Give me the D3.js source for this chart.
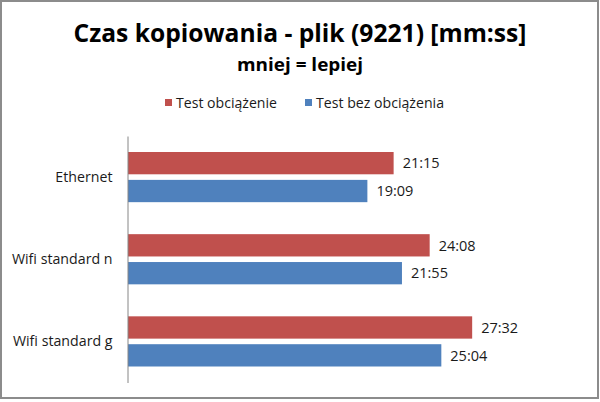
<!DOCTYPE html>
<html>
<head>
<meta charset="utf-8">
<script src="https://cdn.jsdelivr.net/npm/d3@7"></script>
<style>
  body { margin: 0; background: #fff; }
  text { font-family: "Open Sans", "DejaVu Sans", sans-serif; }
</style>
</head>
<body>
<script>
// data
var categories = ["Ethernet", "Wifi standard n", "Wifi standard g"];
var seriesNames = ["Test obciążenie", "Test bez obciążenia"];
var seriesColors = ["#C0504D", "#4F81BD"];
// czasy w formacie mm:ss
var obciazenie = ["21:15", "24:08", "27:32"];
var bezObciazenia = ["19:09", "21:55", "25:04"];
var xMaxLabel = "30:00";

var svgWidth = 600, svgHeight = 402;

function toSec(s) {
  var p = s.split(":");
  return (+p[0]) * 60 + (+p[1]);
}

var rows = categories.map(function(c, i) {
  return { cat: c, values: [obciazenie[i], bezObciazenia[i]] };
});

var svg = d3.select("body").append("svg")
    .attr("width", svgWidth)
    .attr("height", svgHeight);

// ramka
svg.append("rect")
    .attr("x", 1).attr("y", 1)
    .attr("width", 597).attr("height", 397)
    .attr("fill", "#fff")
    .attr("stroke", "#8c8c8c")
    .attr("stroke-width", 2);

// titles
svg.append("text")
    .attr("x", 300).attr("y", 42)
    .attr("text-anchor", "middle")
    .attr("font-size", 25).attr("font-weight", "bold")
    .attr("textLength", 453).attr("lengthAdjust", "spacingAndGlyphs")
    .text("Czas kopiowania - plik (9221) [mm:ss]");

svg.append("text")
    .attr("x", 300).attr("y", 71)
    .attr("text-anchor", "middle")
    .attr("font-size", 17).attr("font-weight", "bold")
    .attr("textLength", 126).attr("lengthAdjust", "spacingAndGlyphs")
    .text("mniej = lepiej");

// legend
var legendX = [165, 305];
var legendW = [101, 128];
var legend = svg.append("g").selectAll("g")
    .data(seriesNames)
    .enter().append("g")
    .attr("transform", function(d, i) { return "translate(" + legendX[i] + ",99)"; });
legend.append("rect")
    .attr("width", 7).attr("height", 7)
    .attr("fill", function(d, i) { return seriesColors[i]; });
legend.append("text")
    .attr("x", 11).attr("y", 8.5)
    .attr("font-size", 14)
    .attr("fill", "#1a1a1a")
    .attr("textLength", function(d, i) { return legendW[i]; })
    .attr("lengthAdjust", "spacingAndGlyphs")
    .text(function(d) { return d; });

// scales
var x = d3.scaleLinear()
    .domain([0, toSec(xMaxLabel)])
    .range([128, 503]);

var y = d3.scaleBand()
    .domain(categories)
    .range([136, 382.5]);

var y1 = d3.scaleBand()
    .domain(d3.range(seriesNames.length))
    .range([16, y.bandwidth() - 16])
    .paddingInner(0.2);

// bars
var groups = svg.append("g").selectAll("g")
    .data(rows)
    .enter().append("g")
    .attr("transform", function(d) { return "translate(0," + y(d.cat) + ")"; });

groups.selectAll("rect")
    .data(function(d) { return d.values; })
    .enter().append("rect")
    .attr("x", x(0))
    .attr("y", function(d, i) { return y1(i); })
    .attr("width", function(d) { return x(toSec(d)) - x(0); })
    .attr("height", y1.bandwidth())
    .attr("fill", function(d, i) { return seriesColors[i]; });

groups.selectAll("text")
    .data(function(d) { return d.values; })
    .enter().append("text")
    .attr("x", function(d) { return x(toSec(d)) + 9; })
    .attr("y", function(d, i) { return y1(i) + y1.bandwidth() / 2; })
    .attr("dy", "0.36em")
    .attr("font-size", 14.5)
    .attr("fill", "#1a1a1a")
    .text(function(d) { return d; });

// axis
var yAxis = svg.append("g")
    .attr("transform", "translate(" + 127.5 + ",0)")
    .call(d3.axisLeft(y).tickSize(0).tickPadding(15));
yAxis.select(".domain").attr("stroke", "#868686");
yAxis.selectAll("text")
    .attr("font-size", 14.2)
    .attr("fill", "#1a1a1a")
    .style("font-family", "\"Open Sans\", sans-serif");
</script>
</body>
</html>
